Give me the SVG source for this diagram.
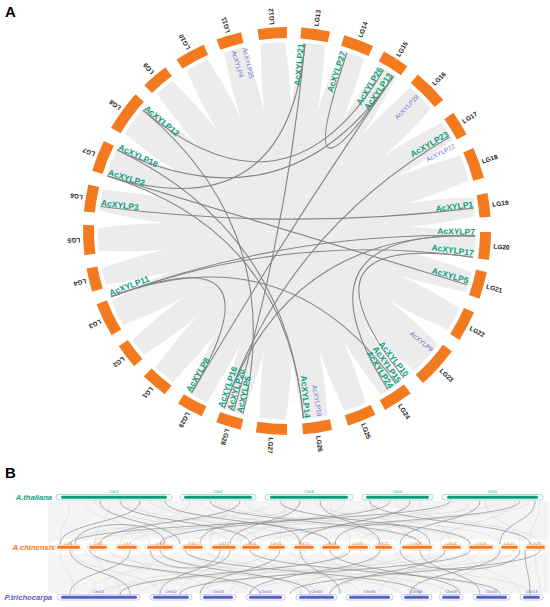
<svg xmlns="http://www.w3.org/2000/svg" xmlns:xlink="http://www.w3.org/1999/xlink" width="550" height="607" viewBox="0 0 550 607">
<style>
.seg{fill:none;stroke:#f47a1f;stroke-width:11}
.lg{font-family:"Liberation Sans",Arial,sans-serif;font-weight:bold;font-size:6.5px;fill:#1a1a1a}
.g{font-family:"Liberation Sans",Arial,sans-serif;font-weight:bold;font-size:8.5px;fill:#11a07e}
.gb{font-family:"Liberation Sans",Arial,sans-serif;font-size:6.5px;fill:#6c74ca}
.lk{fill:none;stroke:#858585;stroke-width:1.1}
.pl{font-family:"Liberation Sans",Arial,sans-serif;font-weight:bold;font-size:15px;fill:#000}
.sp{font-family:"Liberation Sans",Arial,sans-serif;font-weight:bold;font-style:italic;font-size:7.6px}
.ls{fill:none;stroke:#d2d2d2;stroke-width:0.5}
.ds{fill:none;stroke:#8e8e8e;stroke-width:0.7}
.ct{font-family:"Liberation Sans",Arial,sans-serif;font-size:4.3px;text-anchor:middle}
.to{fill:#fff;stroke:#7fcdb9;stroke-width:0.7}
.ti{fill:#119a7a}
.oo{fill:#fff;stroke:#fbcfae;stroke-width:0.7}
.oi{fill:#f47a1f}
.bo{fill:#fff;stroke:#b0b5e6;stroke-width:0.7}
.bi{fill:#5860c2}
</style>
<defs>
<path id="wedge" d="M190,-9 Q150,-1.5 122,0 Q150,1.5 190,9 Z" fill="#fff"/>
</defs>
<rect width="550" height="607" fill="#fff"/>
<text class="pl" x="5" y="17">A</text>
<text class="pl" x="5" y="478">B</text>

<!-- ribbons background -->
<g id="ribbons">
<circle cx="287" cy="231" r="189" fill="#ececec"/>
<g transform="translate(287 231)">
<use xlink:href="#wedge" transform="rotate(-88)"/>
<use xlink:href="#wedge" transform="rotate(-75.75)"/>
<use xlink:href="#wedge" transform="rotate(-63.3)"/>
<use xlink:href="#wedge" transform="rotate(-51.95)"/>
<use xlink:href="#wedge" transform="rotate(-37.7)"/>
<use xlink:href="#wedge" transform="rotate(-26.15)"/>
<use xlink:href="#wedge" transform="rotate(-12.9)"/>
<use xlink:href="#wedge" transform="rotate(-1.85)"/>
<use xlink:href="#wedge" transform="rotate(9.9)"/>
<use xlink:href="#wedge" transform="rotate(21.45)"/>
<use xlink:href="#wedge" transform="rotate(34.2)"/>
<use xlink:href="#wedge" transform="rotate(50.45)"/>
<use xlink:href="#wedge" transform="rotate(62.8)"/>
<use xlink:href="#wedge" transform="rotate(74.9)"/>
<use xlink:href="#wedge" transform="rotate(87.75)"/>
<use xlink:href="#wedge" transform="rotate(100.95)"/>
<use xlink:href="#wedge" transform="rotate(112.5)"/>
<use xlink:href="#wedge" transform="rotate(124.55)"/>
<use xlink:href="#wedge" transform="rotate(136.55)"/>
<use xlink:href="#wedge" transform="rotate(147.45)"/>
<use xlink:href="#wedge" transform="rotate(160.85)"/>
<use xlink:href="#wedge" transform="rotate(171.3)"/>
<use xlink:href="#wedge" transform="rotate(183.6)"/>
<use xlink:href="#wedge" transform="rotate(195.2)"/>
<use xlink:href="#wedge" transform="rotate(208.3)"/>
<use xlink:href="#wedge" transform="rotate(223.85)"/>
<use xlink:href="#wedge" transform="rotate(235.3)"/>
<use xlink:href="#wedge" transform="rotate(247.85)"/>
<use xlink:href="#wedge" transform="rotate(259.35)"/>
</g>
</g>

<!-- chromosome ring -->
<g id="LG1"><circle class="seg" cx="287" cy="231" r="198.5" pathLength="360" stroke-dasharray="7.8 400" transform="rotate(126.8 287 231)"/><text class="lg" x="494" y="231" dy="0.35em" transform="rotate(130.7 287 231)">LG1</text></g>
<g id="LG2"><circle class="seg" cx="287" cy="231" r="198.5" pathLength="360" stroke-dasharray="7.1 400" transform="rotate(138.5 287 231)"/><text class="lg" x="494" y="231" dy="0.35em" transform="rotate(142.05 287 231)">LG2</text></g>
<g id="LG3"><circle class="seg" cx="287" cy="231" r="198.5" pathLength="360" stroke-dasharray="9.7 400" transform="rotate(149.3 287 231)"/><text class="lg" x="494" y="231" dy="0.35em" transform="rotate(154.15 287 231)">LG3</text></g>
<g id="LG4"><circle class="seg" cx="287" cy="231" r="198.5" pathLength="360" stroke-dasharray="6.7 400" transform="rotate(162.7 287 231)"/><text class="lg" x="494" y="231" dy="0.35em" transform="rotate(166.05 287 231)">LG4</text></g>
<g id="LG5"><circle class="seg" cx="287" cy="231" r="198.5" pathLength="360" stroke-dasharray="8.5 400" transform="rotate(173.2 287 231)"/><text class="lg" x="494" y="231" dy="0.35em" transform="rotate(177.45 287 231)">LG5</text></g>
<g id="LG6"><circle class="seg" cx="287" cy="231" r="198.5" pathLength="360" stroke-dasharray="7.7 400" transform="rotate(185.5 287 231)"/><text class="lg" x="494" y="231" dy="0.35em" transform="rotate(189.35 287 231)">LG6</text></g>
<g id="LG7"><circle class="seg" cx="287" cy="231" r="198.5" pathLength="360" stroke-dasharray="9 400" transform="rotate(197.2 287 231)"/><text class="lg" x="494" y="231" dy="0.35em" transform="rotate(201.7 287 231)">LG7</text></g>
<g id="LG8"><circle class="seg" cx="287" cy="231" r="198.5" pathLength="360" stroke-dasharray="11.7 400" transform="rotate(210.4 287 231)"/><text class="lg" x="494" y="231" dy="0.35em" transform="rotate(216.25 287 231)">LG8</text></g>
<g id="LG9"><circle class="seg" cx="287" cy="231" r="198.5" pathLength="360" stroke-dasharray="7.8 400" transform="rotate(225.6 287 231)"/><text class="lg" x="494" y="231" dy="0.35em" transform="rotate(229.5 287 231)">LG9</text></g>
<g id="LG10"><circle class="seg" cx="287" cy="231" r="198.5" pathLength="360" stroke-dasharray="8.7 400" transform="rotate(237.2 287 231)"/><text class="lg" x="494" y="231" dy="0.35em" transform="rotate(241.55 287 231)">LG10</text></g>
<g id="LG11"><circle class="seg" cx="287" cy="231" r="198.5" pathLength="360" stroke-dasharray="7.2 400" transform="rotate(249.8 287 231)"/><text class="lg" x="494" y="231" dy="0.35em" transform="rotate(253.4 287 231)">LG11</text></g>
<g id="LG12"><circle class="seg" cx="287" cy="231" r="198.5" pathLength="360" stroke-dasharray="8.3 400" transform="rotate(261.7 287 231)"/><text class="lg" x="494" y="231" dy="0.35em" transform="rotate(265.85 287 231)">LG12</text></g>
<g id="LG13"><circle class="seg" cx="287" cy="231" r="198.5" pathLength="360" stroke-dasharray="8.2 400" transform="rotate(-86 287 231)"/><text class="lg" x="494" y="231" dy="0.35em" transform="rotate(-81.9 287 231)">LG13</text></g>
<g id="LG14"><circle class="seg" cx="287" cy="231" r="198.5" pathLength="360" stroke-dasharray="8.7 400" transform="rotate(-73.7 287 231)"/><text class="lg" x="494" y="231" dy="0.35em" transform="rotate(-69.35 287 231)">LG14</text></g>
<g id="LG15"><circle class="seg" cx="287" cy="231" r="198.5" pathLength="360" stroke-dasharray="7.8 400" transform="rotate(-61.6 287 231)"/><text class="lg" x="494" y="231" dy="0.35em" transform="rotate(-57.7 287 231)">LG15</text></g>
<g id="LG16"><circle class="seg" cx="287" cy="231" r="198.5" pathLength="360" stroke-dasharray="10.1 400" transform="rotate(-50.1 287 231)"/><text class="lg" x="494" y="231" dy="0.35em" transform="rotate(-45.05 287 231)">LG16</text></g>
<g id="LG17"><circle class="seg" cx="287" cy="231" r="198.5" pathLength="360" stroke-dasharray="7.1 400" transform="rotate(-35.4 287 231)"/><text class="lg" x="494" y="231" dy="0.35em" transform="rotate(-31.85 287 231)">LG17</text></g>
<g id="LG18"><circle class="seg" cx="287" cy="231" r="198.5" pathLength="360" stroke-dasharray="8.9 400" transform="rotate(-24 287 231)"/><text class="lg" x="494" y="231" dy="0.35em" transform="rotate(-19.55 287 231)">LG18</text></g>
<g id="LG19"><circle class="seg" cx="287" cy="231" r="198.5" pathLength="360" stroke-dasharray="6.7 400" transform="rotate(-10.7 287 231)"/><text class="lg" x="494" y="231" dy="0.35em" transform="rotate(-7.35 287 231)">LG19</text></g>
<g id="LG20"><circle class="seg" cx="287" cy="231" r="198.5" pathLength="360" stroke-dasharray="7.9 400" transform="rotate(0.3 287 231)"/><text class="lg" x="494" y="231" dy="0.35em" transform="rotate(4.25 287 231)">LG20</text></g>
<g id="LG21"><circle class="seg" cx="287" cy="231" r="198.5" pathLength="360" stroke-dasharray="7.8 400" transform="rotate(11.6 287 231)"/><text class="lg" x="494" y="231" dy="0.35em" transform="rotate(15.5 287 231)">LG21</text></g>
<g id="LG22"><circle class="seg" cx="287" cy="231" r="198.5" pathLength="360" stroke-dasharray="8.8 400" transform="rotate(23.5 287 231)"/><text class="lg" x="494" y="231" dy="0.35em" transform="rotate(27.9 287 231)">LG22</text></g>
<g id="LG23"><circle class="seg" cx="287" cy="231" r="198.5" pathLength="360" stroke-dasharray="12.1 400" transform="rotate(36.1 287 231)"/><text class="lg" x="494" y="231" dy="0.35em" transform="rotate(42.15 287 231)">LG23</text></g>
<g id="LG24"><circle class="seg" cx="287" cy="231" r="198.5" pathLength="360" stroke-dasharray="8.6 400" transform="rotate(52.7 287 231)"/><text class="lg" x="494" y="231" dy="0.35em" transform="rotate(57 287 231)">LG24</text></g>
<g id="LG25"><circle class="seg" cx="287" cy="231" r="198.5" pathLength="360" stroke-dasharray="8.3 400" transform="rotate(64.3 287 231)"/><text class="lg" x="494" y="231" dy="0.35em" transform="rotate(68.45 287 231)">LG25</text></g>
<g id="LG26"><circle class="seg" cx="287" cy="231" r="198.5" pathLength="360" stroke-dasharray="8.3 400" transform="rotate(77.2 287 231)"/><text class="lg" x="494" y="231" dy="0.35em" transform="rotate(81.35 287 231)">LG26</text></g>
<g id="LG27"><circle class="seg" cx="287" cy="231" r="198.5" pathLength="360" stroke-dasharray="8.8 400" transform="rotate(90 287 231)"/><text class="lg" x="494" y="231" dy="0.35em" transform="rotate(94.4 287 231)">LG27</text></g>
<g id="LG28"><circle class="seg" cx="287" cy="231" r="198.5" pathLength="360" stroke-dasharray="7.2 400" transform="rotate(103.1 287 231)"/><text class="lg" x="494" y="231" dy="0.35em" transform="rotate(106.7 287 231)">LG28</text></g>
<g id="LG29"><circle class="seg" cx="287" cy="231" r="198.5" pathLength="360" stroke-dasharray="7.6 400" transform="rotate(114.7 287 231)"/><text class="lg" x="494" y="231" dy="0.35em" transform="rotate(118.5 287 231)">LG29</text></g>

<!-- links -->
<g id="links">
<path class="lk" d="M143,110.2 Q287,231 383.8,69.8"/>
<path class="lk" d="M143,110.2 Q287,231 243.1,413.8"/>
<path class="lk" d="M117.3,150.1 Q287,231 393.5,76.1"/>
<path class="lk" d="M100.6,206.5 Q287,231 473.6,208.1"/>
<path class="lk" d="M107.2,176 Q287,231 467.2,284.7"/>
<path class="lk" d="M111,296.8 Q287,231 474.9,235.9"/>
<path class="lk" d="M111,296.8 Q287,231 473.2,257.2"/>
<path class="lk" d="M111,296.8 Q287,231 191.6,393"/>
<path class="lk" d="M191.6,393 Q287,231 393.5,76.1"/>
<path class="lk" d="M224.2,408.2 Q287,231 449.8,137"/>
<path class="lk" d="M233.6,411.3 Q287,231 305,43.9"/>
<path class="lk" d="M224.2,408.2 Q287,231 474.9,235.9"/>
<path class="lk" d="M303.4,418.3 Q287,231 117.3,150.1"/>
<path class="lk" d="M303.4,418.3 Q287,231 107.2,176"/>
<path class="lk" d="M404,378.1 Q287,231 473.2,257.2"/>
<path class="lk" d="M396.2,384.1 Q287,231 111,296.8"/>
<path class="lk" d="M388,389.6 Q287,231 474.9,235.9"/>
<path class="lk" d="M347,52.8 Q287,231 393.5,76.1"/>
<path class="lk" d="M305,43.9 Q287,231 107.2,176"/>
</g>

<!-- gene labels -->
<g id="AcXYLP21"><text class="g" x="475" y="231" dy="-1" text-anchor="end" transform="rotate(-84.5 287 231)">AcXYLP21</text></g>
<g id="AcXYLP27"><text class="g" x="475" y="231" dy="-1" text-anchor="end" transform="rotate(-71.4 287 231)">AcXYLP27</text></g>
<g id="AcXYLP26"><text class="g" x="475" y="231" dy="-1" text-anchor="end" transform="rotate(-59 287 231)">AcXYLP26</text></g>
<g id="AcXYLP13"><text class="g" x="475" y="231" dy="-1" text-anchor="end" transform="rotate(-55.5 287 231)">AcXYLP13</text></g>
<g id="AcXYLP28"><text class="gb" x="475" y="231" dy="0.35em" text-anchor="end" transform="rotate(-46 287 231)">AcXYLP28</text></g>
<g id="AcXYLP23"><text class="g" x="475" y="231" dy="-1" text-anchor="end" transform="rotate(-30 287 231)">AcXYLP23</text></g>
<g id="AcXYLP22"><text class="gb" x="475" y="231" dy="0.35em" text-anchor="end" transform="rotate(-27 287 231)">AcXYLP22</text></g>
<g id="AcXYLP1"><text class="g" x="475" y="231" dy="-1" text-anchor="end" transform="rotate(-7 287 231)">AcXYLP1</text></g>
<g id="AcXYLP7"><text class="g" x="475" y="231" dy="-1" text-anchor="end" transform="rotate(1.5 287 231)">AcXYLP7</text></g>
<g id="AcXYLP17"><text class="g" x="475" y="231" dy="-1" text-anchor="end" transform="rotate(8 287 231)">AcXYLP17</text></g>
<g id="AcXYLP5"><text class="g" x="475" y="231" dy="-1" text-anchor="end" transform="rotate(16.6 287 231)">AcXYLP5</text></g>
<g id="AcXYLP9"><text class="gb" x="475" y="231" dy="0.35em" text-anchor="end" transform="rotate(39.4 287 231)">AcXYLP9</text></g>
<g id="AcXYLP10"><text class="g" x="475" y="231" dy="-1" text-anchor="end" transform="rotate(51.5 287 231)">AcXYLP10</text></g>
<g id="AcXYLP15"><text class="g" x="475" y="231" dy="-1" text-anchor="end" transform="rotate(54.5 287 231)">AcXYLP15</text></g>
<g id="AcXYLP24"><text class="g" x="475" y="231" dy="-1" text-anchor="end" transform="rotate(57.5 287 231)">AcXYLP24</text></g>
<g id="AcXYLP19"><text class="gb" x="475" y="231" dy="0.35em" text-anchor="end" transform="rotate(80 287 231)">AcXYLP19</text></g>
<g id="AcXYLP14"><text class="g" x="475" y="231" dy="-1" text-anchor="end" transform="rotate(85 287 231)">AcXYLP14</text></g>
<g id="AcXYLP6"><text class="g" x="475" y="231" dy="-1" transform="rotate(103.5 287 231) rotate(180 475 231)">AcXYLP6</text></g>
<g id="AcXYLP20"><text class="g" x="475" y="231" dy="-1" transform="rotate(106.5 287 231) rotate(180 475 231)">AcXYLP20</text></g>
<g id="AcXYLP16"><text class="g" x="475" y="231" dy="-1" transform="rotate(109.5 287 231) rotate(180 475 231)">AcXYLP16</text></g>
<g id="AcXYLP8"><text class="g" x="475" y="231" dy="-1" transform="rotate(120.5 287 231) rotate(180 475 231)">AcXYLP8</text></g>
<g id="AcXYLP11"><text class="g" x="475" y="231" dy="-1" transform="rotate(159.5 287 231) rotate(180 475 231)">AcXYLP11</text></g>
<g id="AcXYLP3"><text class="g" x="475" y="231" dy="-1" transform="rotate(187.5 287 231) rotate(180 475 231)">AcXYLP3</text></g>
<g id="AcXYLP2"><text class="g" x="475" y="231" dy="-1" transform="rotate(197 287 231) rotate(180 475 231)">AcXYLP2</text></g>
<g id="AcXYLP18"><text class="g" x="475" y="231" dy="-1" transform="rotate(205.5 287 231) rotate(180 475 231)">AcXYLP18</text></g>
<g id="AcXYLP12"><text class="g" x="475" y="231" dy="-1" transform="rotate(220 287 231) rotate(180 475 231)">AcXYLP12</text></g>
<g id="AcXYLP4"><text class="gb" x="475" y="231" dy="0.35em" transform="rotate(253.5 287 231) rotate(180 475 231)">AcXYLP4</text></g>
<g id="AcXYLP25"><text class="gb" x="475" y="231" dy="0.35em" transform="rotate(257 287 231) rotate(180 475 231)">AcXYLP25</text></g>

<!-- Part B background -->
<g id="synteny-bg">
<rect x="48" y="501" width="501" height="92" fill="#f4f4f4"/>
<g fill="#fff">
<ellipse cx="68.5" cy="547" rx="21" ry="8"/>
<ellipse cx="98" cy="547" rx="18" ry="8"/>
<ellipse cx="127" cy="547" rx="19" ry="8"/>
<ellipse cx="160" cy="547" rx="22" ry="8"/>
<ellipse cx="193" cy="547" rx="18" ry="8"/>
<ellipse cx="224" cy="547" rx="20" ry="8"/>
<ellipse cx="251" cy="547" rx="17" ry="8"/>
<ellipse cx="276.5" cy="547" rx="17" ry="8"/>
<ellipse cx="304" cy="547" rx="18" ry="8"/>
<ellipse cx="331" cy="547" rx="17" ry="8"/>
<ellipse cx="358" cy="547" rx="18" ry="8"/>
<ellipse cx="383.5" cy="547" rx="17" ry="8"/>
<ellipse cx="417" cy="547" rx="23" ry="8"/>
<ellipse cx="451.5" cy="547" rx="17" ry="8"/>
<ellipse cx="481" cy="547" rx="20" ry="8"/>
<ellipse cx="509.5" cy="547" rx="16" ry="8"/>
<ellipse cx="535.5" cy="547" rx="16" ry="8"/>
</g>
</g>

<!-- Part B synteny connectors -->
<g id="synteny-links">
<g class="ls">
<path d="M70,501 C70,522 60,522 60,544"/>
<path d="M85,501 C85,522 150,522 150,544"/>
<path d="M95,501 C95,522 230,522 230,544"/>
<path d="M110,501 C110,522 95,522 95,544"/>
<path d="M125,501 C125,522 300,522 300,544"/>
<path d="M140,501 C140,522 190,522 190,544"/>
<path d="M150,501 C150,522 420,522 420,544"/>
<path d="M160,501 C160,522 260,522 260,544"/>
<path d="M190,501 C190,522 120,522 120,544"/>
<path d="M200,501 C200,522 330,522 330,544"/>
<path d="M215,501 C215,522 470,522 470,544"/>
<path d="M230,501 C230,522 210,522 210,544"/>
<path d="M245,501 C245,522 380,522 380,544"/>
<path d="M275,501 C275,522 70,522 70,544"/>
<path d="M285,501 C285,522 280,522 280,544"/>
<path d="M300,501 C300,522 160,522 160,544"/>
<path d="M315,501 C315,522 500,522 500,544"/>
<path d="M330,501 C330,522 350,522 350,544"/>
<path d="M345,501 C345,522 240,522 240,544"/>
<path d="M370,501 C370,522 410,522 410,544"/>
<path d="M380,501 C380,522 130,522 130,544"/>
<path d="M395,501 C395,522 540,522 540,544"/>
<path d="M410,501 C410,522 300,522 300,544"/>
<path d="M420,501 C420,522 450,522 450,544"/>
<path d="M455,501 C455,522 190,522 190,544"/>
<path d="M470,501 C470,522 360,522 360,544"/>
<path d="M485,501 C485,522 520,522 520,544"/>
<path d="M500,501 C500,522 90,522 90,544"/>
<path d="M515,501 C515,522 440,522 440,544"/>
<path d="M530,501 C530,522 270,522 270,544"/>
<path d="M540,501 C540,522 530,522 530,544"/>
<path d="M60,550 C60,572 75,572 75,594"/>
<path d="M72,550 C72,572 160,572 160,594"/>
<path d="M85,550 C85,572 250,572 250,594"/>
<path d="M95,550 C95,572 120,572 120,594"/>
<path d="M110,550 C110,572 320,572 320,594"/>
<path d="M125,550 C125,572 210,572 210,594"/>
<path d="M150,550 C150,572 400,572 400,594"/>
<path d="M165,550 C165,572 90,572 90,594"/>
<path d="M190,550 C190,572 300,572 300,594"/>
<path d="M205,550 C205,572 450,572 450,594"/>
<path d="M225,550 C225,572 180,572 180,594"/>
<path d="M250,550 C250,572 360,572 360,594"/>
<path d="M270,550 C270,572 110,572 110,594"/>
<path d="M290,550 C290,572 490,572 490,594"/>
<path d="M305,550 C305,572 230,572 230,594"/>
<path d="M320,550 C320,572 410,572 410,594"/>
<path d="M345,550 C345,572 140,572 140,594"/>
<path d="M360,550 C360,572 530,572 530,594"/>
<path d="M380,550 C380,572 300,572 300,594"/>
<path d="M395,550 C395,572 460,572 460,594"/>
<path d="M415,550 C415,572 200,572 200,594"/>
<path d="M430,550 C430,572 380,572 380,594"/>
<path d="M450,550 C450,572 100,572 100,594"/>
<path d="M465,550 C465,572 520,572 520,594"/>
<path d="M480,550 C480,572 330,572 330,594"/>
<path d="M500,550 C500,572 440,572 440,594"/>
<path d="M515,550 C515,572 250,572 250,594"/>
<path d="M535,550 C535,572 540,572 540,594"/>
</g>
<g class="ds">
<path d="M100,501 C100,522 180,522 180,544"/>
<path d="M120,501 C120,522 250,522 250,544"/>
<path d="M140,501 C140,522 60,522 60,544"/>
<path d="M165,501 C165,522 330,522 330,544"/>
<path d="M210,501 C210,522 420,522 420,544"/>
<path d="M240,501 C240,522 100,522 100,544"/>
<path d="M280,501 C280,522 470,522 470,544"/>
<path d="M300,501 C300,522 230,522 230,544"/>
<path d="M320,501 C320,522 380,522 380,544"/>
<path d="M370,501 C370,522 530,522 530,544"/>
<path d="M390,501 C390,522 160,522 160,544"/>
<path d="M410,501 C410,522 300,522 300,544"/>
<path d="M450,501 C450,522 70,522 70,544"/>
<path d="M480,501 C480,522 400,522 400,544"/>
<path d="M520,501 C520,522 250,522 250,544"/>
<path d="M535,501 C535,522 500,522 500,544"/>
<path d="M75,544 C75,518 165,518 165,544"/>
<path d="M200,544 C200,516 300,516 300,544"/>
<path d="M335,544 C335,518 430,518 430,544"/>
<path d="M150,550 C150,574 230,574 230,550"/>
<path d="M400,550 C400,576 520,576 520,550"/>
<path d="M70,550 C70,572 130,572 130,594"/>
<path d="M90,550 C90,572 260,572 260,594"/>
<path d="M130,550 C130,572 70,572 70,594"/>
<path d="M160,550 C160,572 310,572 310,594"/>
<path d="M185,550 C185,572 420,572 420,594"/>
<path d="M220,550 C220,572 160,572 160,594"/>
<path d="M250,550 C250,572 500,572 500,594"/>
<path d="M280,550 C280,572 200,572 200,594"/>
<path d="M300,550 C300,572 340,572 340,594"/>
<path d="M330,550 C330,572 460,572 460,594"/>
<path d="M350,550 C350,572 120,572 120,594"/>
<path d="M380,550 C380,572 250,572 250,594"/>
<path d="M420,550 C420,572 480,572 480,594"/>
<path d="M445,550 C445,572 330,572 330,594"/>
<path d="M470,550 C470,572 180,572 180,594"/>
<path d="M500,550 C500,572 410,572 410,594"/>
<path d="M525,550 C525,572 530,572 530,594"/>
<path d="M540,550 C540,572 290,572 290,594"/>
</g>
</g>

<!-- A. thaliana -->
<text class="sp" x="52" y="499.5" text-anchor="end" fill="#15a07f">A.thaliana</text>
<g id="At-Chr1"><rect class="to" x="56" y="494.5" width="116" height="5.5" rx="2.75"/><rect class="ti" x="61" y="495.8" width="106" height="3" rx="1.5"/><text class="ct" x="114" y="492.5" fill="#15a07f">Chr1</text></g>
<g id="At-Chr2"><rect class="to" x="180" y="494.5" width="76" height="5.5" rx="2.75"/><rect class="ti" x="184" y="495.8" width="68" height="3" rx="1.5"/><text class="ct" x="218" y="492.5" fill="#15a07f">Chr2</text></g>
<g id="At-Chr3"><rect class="to" x="265" y="494.5" width="88" height="5.5" rx="2.75"/><rect class="ti" x="270" y="495.8" width="78" height="3" rx="1.5"/><text class="ct" x="309" y="492.5" fill="#15a07f">Chr3</text></g>
<g id="At-Chr4"><rect class="to" x="362" y="494.5" width="71" height="5.5" rx="2.75"/><rect class="ti" x="366" y="495.8" width="63" height="3" rx="1.5"/><text class="ct" x="397.5" y="492.5" fill="#15a07f">Chr4</text></g>
<g id="At-Chr5"><rect class="to" x="442" y="494.5" width="101" height="5.5" rx="2.75"/><rect class="ti" x="447" y="495.8" width="91" height="3" rx="1.5"/><text class="ct" x="492.5" y="492.5" fill="#15a07f">Chr5</text></g>

<!-- A. chinensis -->
<text class="sp" x="55" y="550" text-anchor="end" fill="#f47a1f">A.chinensis</text>
<g id="Ac-LG1"><rect class="oo" x="55" y="544.5" width="27" height="5.5" rx="2.75"/><rect class="oi" x="57" y="545.8" width="23" height="3" rx="1.5"/><text class="ct" x="68.5" y="545" fill="#f47a1f">LG1</text></g>
<g id="Ac-LG2"><rect class="oo" x="87" y="544.5" width="22" height="5.5" rx="2.75"/><rect class="oi" x="89" y="545.8" width="18" height="3" rx="1.5"/><text class="ct" x="98" y="545" fill="#f47a1f">LG2</text></g>
<g id="Ac-LG7"><rect class="oo" x="115" y="544.5" width="24" height="5.5" rx="2.75"/><rect class="oi" x="117" y="545.8" width="20" height="3" rx="1.5"/><text class="ct" x="127" y="545" fill="#f47a1f">LG7</text></g>
<g id="Ac-LG8"><rect class="oo" x="145" y="544.5" width="30" height="5.5" rx="2.75"/><rect class="oi" x="147" y="545.8" width="26" height="3" rx="1.5"/><text class="ct" x="160" y="545" fill="#f47a1f">LG8</text></g>
<g id="Ac-LG11"><rect class="oo" x="181" y="544.5" width="24" height="5.5" rx="2.75"/><rect class="oi" x="183" y="545.8" width="20" height="3" rx="1.5"/><text class="ct" x="193" y="545" fill="#f47a1f">LG11</text></g>
<g id="Ac-LG13"><rect class="oo" x="210" y="544.5" width="28" height="5.5" rx="2.75"/><rect class="oi" x="212" y="545.8" width="24" height="3" rx="1.5"/><text class="ct" x="224" y="545" fill="#f47a1f">LG13</text></g>
<g id="Ac-LG14"><rect class="oo" x="240" y="544.5" width="22" height="5.5" rx="2.75"/><rect class="oi" x="242" y="545.8" width="18" height="3" rx="1.5"/><text class="ct" x="251" y="545" fill="#f47a1f">LG14</text></g>
<g id="Ac-LG15"><rect class="oo" x="266" y="544.5" width="21" height="5.5" rx="2.75"/><rect class="oi" x="268" y="545.8" width="17" height="3" rx="1.5"/><text class="ct" x="276.5" y="545" fill="#f47a1f">LG15</text></g>
<g id="Ac-LG17"><rect class="oo" x="292" y="544.5" width="24" height="5.5" rx="2.75"/><rect class="oi" x="294" y="545.8" width="20" height="3" rx="1.5"/><text class="ct" x="304" y="545" fill="#f47a1f">LG17</text></g>
<g id="Ac-LG18"><rect class="oo" x="320" y="544.5" width="22" height="5.5" rx="2.75"/><rect class="oi" x="322" y="545.8" width="18" height="3" rx="1.5"/><text class="ct" x="331" y="545" fill="#f47a1f">LG18</text></g>
<g id="Ac-LG20"><rect class="oo" x="346" y="544.5" width="24" height="5.5" rx="2.75"/><rect class="oi" x="348" y="545.8" width="20" height="3" rx="1.5"/><text class="ct" x="358" y="545" fill="#f47a1f">LG20</text></g>
<g id="Ac-LG21"><rect class="oo" x="373" y="544.5" width="21" height="5.5" rx="2.75"/><rect class="oi" x="375" y="545.8" width="17" height="3" rx="1.5"/><text class="ct" x="383.5" y="545" fill="#f47a1f">LG21</text></g>
<g id="Ac-LG23"><rect class="oo" x="400" y="544.5" width="34" height="5.5" rx="2.75"/><rect class="oi" x="402" y="545.8" width="30" height="3" rx="1.5"/><text class="ct" x="417" y="545" fill="#f47a1f">LG23</text></g>
<g id="Ac-LG24"><rect class="oo" x="440" y="544.5" width="23" height="5.5" rx="2.75"/><rect class="oi" x="442" y="545.8" width="19" height="3" rx="1.5"/><text class="ct" x="451.5" y="545" fill="#f47a1f">LG24</text></g>
<g id="Ac-LG26"><rect class="oo" x="467" y="544.5" width="28" height="5.5" rx="2.75"/><rect class="oi" x="469" y="545.8" width="24" height="3" rx="1.5"/><text class="ct" x="481" y="545" fill="#f47a1f">LG26</text></g>
<g id="Ac-LG27"><rect class="oo" x="499" y="544.5" width="21" height="5.5" rx="2.75"/><rect class="oi" x="501" y="545.8" width="17" height="3" rx="1.5"/><text class="ct" x="509.5" y="545" fill="#f47a1f">LG27</text></g>
<g id="Ac-LG29"><rect class="oo" x="524" y="544.5" width="23" height="5.5" rx="2.75"/><rect class="oi" x="526" y="545.8" width="19" height="3" rx="1.5"/><text class="ct" x="535.5" y="545" fill="#f47a1f">LG29</text></g>

<!-- P. trichocarpa -->
<text class="sp" x="52" y="599.5" text-anchor="end" fill="#5860c2">P.trichocarpa</text>
<g id="Pt-Chr01"><rect class="bo" x="57" y="594.5" width="83" height="5.5" rx="2.75"/><rect class="bi" x="61" y="595.8" width="76" height="3" rx="1.5"/><text class="ct" x="98.5" y="592.5" fill="#5860c2">Chr01</text></g>
<g id="Pt-Chr02"><rect class="bo" x="150" y="594.5" width="42" height="5.5" rx="2.75"/><rect class="bi" x="153" y="595.8" width="36" height="3" rx="1.5"/><text class="ct" x="171" y="592.5" fill="#5860c2">Chr02</text></g>
<g id="Pt-Chr03"><rect class="bo" x="200" y="594.5" width="36" height="5.5" rx="2.75"/><rect class="bi" x="203" y="595.8" width="30" height="3" rx="1.5"/><text class="ct" x="218" y="592.5" fill="#5860c2">Chr03</text></g>
<g id="Pt-Chr04"><rect class="bo" x="246" y="594.5" width="39" height="5.5" rx="2.75"/><rect class="bi" x="249" y="595.8" width="33" height="3" rx="1.5"/><text class="ct" x="265.5" y="592.5" fill="#5860c2">Chr04</text></g>
<g id="Pt-Chr05"><rect class="bo" x="296" y="594.5" width="41" height="5.5" rx="2.75"/><rect class="bi" x="299" y="595.8" width="35" height="3" rx="1.5"/><text class="ct" x="316.5" y="592.5" fill="#5860c2">Chr05</text></g>
<g id="Pt-Chr06"><rect class="bo" x="346" y="594.5" width="47" height="5.5" rx="2.75"/><rect class="bi" x="349" y="595.8" width="41" height="3" rx="1.5"/><text class="ct" x="369.5" y="592.5" fill="#5860c2">Chr06</text></g>
<g id="Pt-Chr08"><rect class="bo" x="401" y="594.5" width="31" height="5.5" rx="2.75"/><rect class="bi" x="404" y="595.8" width="25" height="3" rx="1.5"/><text class="ct" x="416.5" y="592.5" fill="#5860c2">Chr08</text></g>
<g id="Pt-Chr09"><rect class="bo" x="439" y="594.5" width="24" height="5.5" rx="2.75"/><rect class="bi" x="442" y="595.8" width="18" height="3" rx="1.5"/><text class="ct" x="451" y="592.5" fill="#5860c2">Chr09</text></g>
<g id="Pt-Chr10"><rect class="bo" x="473" y="594.5" width="37" height="5.5" rx="2.75"/><rect class="bi" x="476" y="595.8" width="31" height="3" rx="1.5"/><text class="ct" x="491.5" y="592.5" fill="#5860c2">Chr10</text></g>
<g id="Pt-Chr13"><rect class="bo" x="520" y="594.5" width="23" height="5.5" rx="2.75"/><rect class="bi" x="523" y="595.8" width="17" height="3" rx="1.5"/><text class="ct" x="531.5" y="592.5" fill="#5860c2">Chr13</text></g>
</svg>
